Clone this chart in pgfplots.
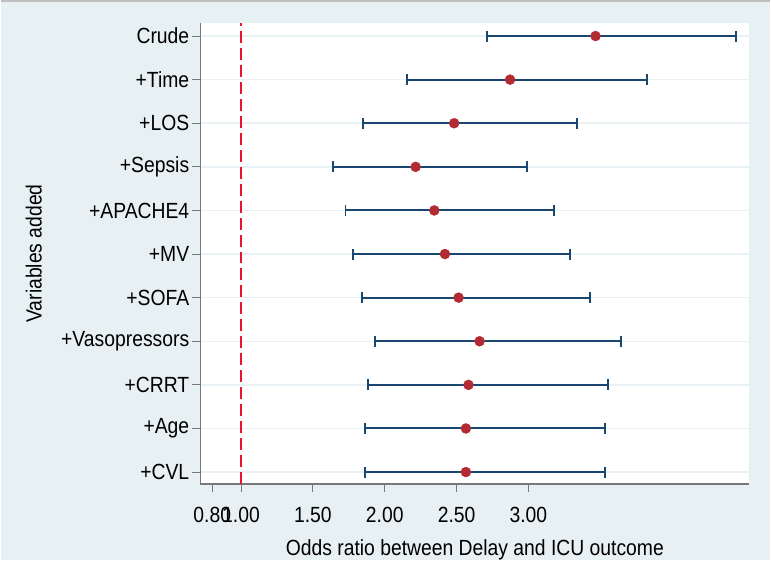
\documentclass[border=0pt]{standalone}
\usepackage{pgfplots}
\usepackage{pgfplotstable}
\pgfplotsset{compat=1.18}
\usepackage{fontspec}
\setmainfont[FakeStretch=0.88]{Liberation Sans}
\definecolor{bgc}{RGB}{231,241,243}
\definecolor{navyc}{RGB}{26,71,111}
\definecolor{dotc}{RGB}{178,42,50}
\definecolor{refc}{RGB}{232,20,48}
\definecolor{gridc}{RGB}{232,242,245}
\definecolor{axc}{RGB}{120,120,120}
\pgfplotstableread{
y  or    lo    hi
11 3.467 2.715 4.447
10 2.872 2.155 3.826
9  2.483 1.851 3.335
8  2.215 1.643 2.990
7  2.345 1.727 3.180
6  2.419 1.780 3.289
5  2.514 1.845 3.428
4  2.660 1.935 3.646
3  2.583 1.886 3.553
2  2.565 1.863 3.535
1  2.565 1.863 3.535
}\datatable
\begin{document}
\begin{tikzpicture}[x=1pt,y=1pt]
\fill[bgc] (0,0) rectangle (771,561);
\draw[gray!50, line width=1.5pt] (0,560.2) -- (771,560.2);
\begin{axis}[
  at={(200pt,76pt)}, anchor=south west,
  scale only axis, width=550pt, height=462pt,
  xmin=0.717, xmax=4.537, ymin=0.725, ymax=11.3,
  axis background/.style={fill=white},
  axis x line*=bottom, axis y line*=left,
  axis line style={-, draw=axc, line width=1.3pt},
  tick align=outside, major tick length=8pt,
  tick style={draw=axc, line width=1pt},
  xtick={0.8,1,1.5,2,2.5,3},
  xticklabels={0.80,1.00,1.50,2.00,2.50,3.00},
  ytick={1,2,3,4,5,6,7,8,9,10,11},
  yticklabels={+CVL,+Age,+CRRT,+Vasopressors,+SOFA,+MV,+APACHE4,+Sepsis,+LOS,+Time,Crude},
  ymajorgrids, grid style={draw=gridc, line width=1.5pt},
  font=\fontsize{22}{24}\selectfont,
  ticklabel style={font=\fontsize{22}{24}\selectfont, inner sep=2pt},
  xticklabel style={yshift=-13pt},
  yticklabel style={xshift=-1pt},
  xlabel={Odds ratio between Delay and ICU outcome},
  ylabel={Variables added},
  every axis x label/.style={at={(axis description cs:0.5,0)}, anchor=center, yshift=-66pt},
  every axis y label/.style={at={(axis description cs:-0.3036,0.5)}, anchor=center, rotate=90},
  clip=false,
]
\addplot[refc, line width=1.8pt, dash pattern=on 12pt off 5pt] coordinates {(1,0.725) (1,11.3)};
\addplot[draw=none, mark=none,
  error bars/.cd, x dir=both, x explicit,
  error bar style={line width=2pt, navyc},
  error mark options={line width=2pt, navyc, mark size=5.5pt, rotate=90}]
  table[x=or, y=y, x error plus expr=\thisrow{hi}-\thisrow{or}, x error minus expr=\thisrow{or}-\thisrow{lo}] {\datatable};
\addplot[only marks, mark=*, mark size=5pt, mark options={fill=dotc, draw=dotc}]
  table[x=or, y=y] {\datatable};
\end{axis}
\end{tikzpicture}
\end{document}
